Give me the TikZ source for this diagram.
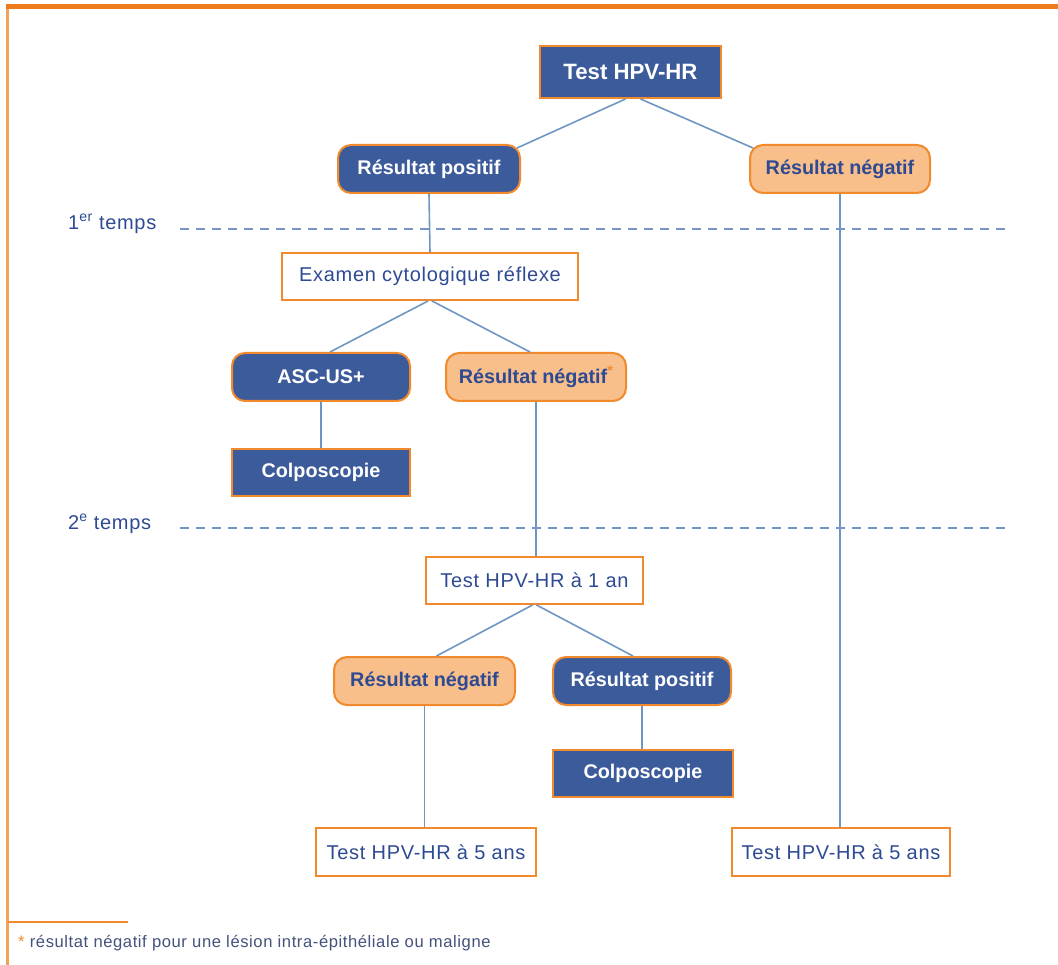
\documentclass[tikz,border=0pt]{standalone}
\usepackage{fontspec}
\setmainfont{Liberation Sans}[LetterSpace=3.5]
\newfontfamily\plainsans{Liberation Sans}
\definecolor{barorange}{HTML}{EE7B1B}
\definecolor{edgeor}{HTML}{F08A2C}
\definecolor{leftor}{HTML}{F4A259}
\definecolor{fillblue}{HTML}{3C5B9B}
\definecolor{fillor}{HTML}{F9BF8B}
\definecolor{txtblue}{HTML}{2D4A93}
\definecolor{linkblue}{HTML}{6F96C2}
\definecolor{dashblue}{HTML}{7396C6}
\definecolor{notegray}{HTML}{44527C}
\begin{document}
\begin{tikzpicture}[x=1pt,y=-1pt,
  box/.style={draw=edgeor, line width=2pt, inner sep=0pt, minimum height=48pt},
  whitebox/.style={box, fill=white, text=txtblue, font=\fontsize{20}{24}\selectfont},
  bluebox/.style={box, fill=fillblue, text=white, font=\plainsans\fontsize{19.8}{24}\selectfont\bfseries},
  bluerbox/.style={bluebox, rounded corners=13pt},
  orbox/.style={box, fill=fillor, text=txtblue, rounded corners=13pt, font=\plainsans\fontsize{19.8}{24}\selectfont\bfseries},
  link/.style={draw=linkblue, line width=1.6pt},
  sep/.style={draw=dashblue, line width=1.5pt, dash pattern=on 9pt off 7pt},
  lbl/.style={text=txtblue, font=\fontsize{20}{24}\selectfont, inner sep=0pt, anchor=west}]
\useasboundingbox (0,0) rectangle (1058,965);
% frame
\draw[leftor, line width=3pt] (7.5,5) -- (7.5,965);
\draw[barorange, line width=5.5pt] (6,6.5) -- (1058,6.5);
\draw[edgeor, line width=1.6pt] (8,922) -- (128,922);

% time separators
\node[lbl] (t1) at (68,224) {1\textsuperscript{er} temps};
\node[lbl] (t2) at (68,524) {2\textsuperscript{e} temps};
\coordinate (s1a) at (180,229); \coordinate (s1b) at (1010,229);
\coordinate (s2a) at (180,528); \coordinate (s2b) at (1010,528);
\path[sep] (s1a) -- (s1b);
\path[sep] (s2a) -- (s2b);

% nodes
\node[bluebox, minimum width=181pt, minimum height=52pt, font=\plainsans\fontsize{22.2}{26}\selectfont\bfseries] (top) at (630.5,72) {Test HPV-HR};
\node[bluerbox, minimum width=182pt] (rp1) at (429,169) {Résultat positif};
\node[orbox, minimum width=180pt] (rn1) at (840,169) {Résultat négatif};
\node[whitebox, minimum width=296pt, minimum height=47pt] (cyto) at (430,276.5) {Examen cytologique réflexe};
\node[bluerbox, minimum width=178pt] (asc) at (321,377) {ASC-US+};
\node[orbox, minimum width=180pt] (rn2) at (536,377) {Résultat négatif\textcolor{edgeor}{\textsuperscript{*}}};
\node[bluebox, minimum width=178pt, minimum height=47pt] (colp1) at (321,472.5) {Colposcopie};
\node[whitebox, minimum width=217pt, minimum height=47pt] (t1an) at (534.5,580.5) {Test HPV-HR à 1 an};
\node[orbox, minimum width=181pt] (rn3) at (424.5,681) {Résultat négatif};
\node[bluerbox, minimum width=178pt] (rp3) at (642,681) {Résultat positif};
\node[bluebox, minimum width=180pt, minimum height=47pt] (colp2) at (643,773.5) {Colposcopie};
\node[whitebox, minimum width=220pt, minimum height=48pt] (t5l) at (426,852) {Test HPV-HR à 5 ans};
\node[whitebox, minimum width=218pt, minimum height=48pt] (t5r) at (841,852) {Test HPV-HR à 5 ans};

% connectors
\path[link] ([xshift=-5pt]top.south) -- ([xshift=-4pt,yshift=-4pt]rp1.north east);
\path[link] ([xshift=10pt]top.south) -- ([xshift=4pt,yshift=-4pt]rn1.north west);
\path[link] (rp1.south) -- (cyto.north);
\path[link] (rn1.south) -- (rn1.south |- t5r.north);
\path[link] ([xshift=-2pt]cyto.south) -- ([xshift=9pt]asc.north);
\path[link] ([xshift=2pt]cyto.south) -- ([xshift=-6pt]rn2.north);
\path[link] (asc.south) -- (colp1.north);
\path[link] (rn2.south) -- (rn2.south |- t1an.north);
\path[link] ([xshift=-2pt]t1an.south) -- ([xshift=12pt]rn3.north);
\path[link] ([xshift=2pt]t1an.south) -- ([xshift=-9pt]rp3.north);
\path[link] (rn3.south) -- (rn3.south |- t5l.north);
\path[link] (rp3.south) -- (rp3.south |- colp2.north);

% footnote
\node[anchor=west, inner sep=0pt, font=\fontsize{16.6}{19}\selectfont, text=notegray] (note) at (18,943) {\textcolor{edgeor}{*} résultat négatif pour une lésion intra-épithéliale ou maligne};
\end{tikzpicture}
\end{document}
